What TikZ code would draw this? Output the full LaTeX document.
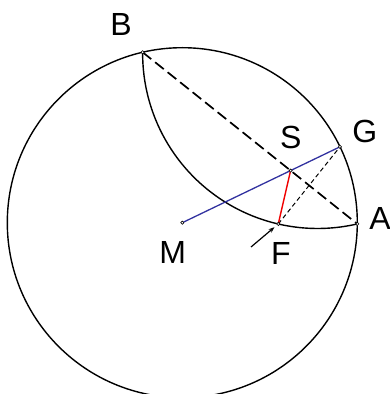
\documentclass[tikz,border=0pt]{standalone}
\usepackage{fontspec}
\setmainfont{Liberation Sans}
\usetikzlibrary{calc,arrows.meta}
\begin{document}
\begin{tikzpicture}[x=1pt,y=1pt,
  lbl/.style={inner sep=0pt, font=\fontsize{32}{36}\selectfont},
  ptmark/.style={circle, draw=black, fill=white, inner sep=0pt, minimum size=3.2pt, line width=0.6pt},
  circline/.style={line width=1.4pt, black},
  chordline/.style={line width=1.7pt, black, dash pattern=on 11pt off 5pt},
  radline/.style={line width=1.3pt, draw={rgb,255:red,50;green,50;blue,160}},
  redline/.style={line width=1.4pt, draw={rgb,255:red,240;green,0;blue,0}},
  perpline/.style={line width=1pt, black, dash pattern=on 4.5pt off 3pt},
  arrline/.style={line width=1.2pt, black, -{Stealth[length=6pt,width=4.5pt]}}]
\clip (0,0) rectangle (390,394);
\coordinate (M) at (182.3,171.3);
\coordinate (B) at ($(M)+(103.1:175)$);
\coordinate (A) at ($(M)+(-0.4:175)$);
\coordinate (G) at ($(M)+(25.7:175)$);
\coordinate (P) at ($(A)!(M)!(B)$);
\coordinate (M2) at ($(M)!2!(P)$);
\coordinate (Q) at ($(A)!(G)!(B)$);
\coordinate (F) at ($(G)!2!(Q)$);
\coordinate (S) at (intersection of M--G and A--B);
\coordinate (T) at (251,147);
% main circle
\draw[circline] (M) circle[radius=175pt];
% reflected arc B-F-A
\draw[circline] let \p1=($(B)-(M2)$), \p2=($(A)-(M2)$),
  \n1={atan2(\y1,\x1)}, \n2={atan2(\y2,\x2)+360} in
  (B) arc[start angle=\n1, end angle=\n2, radius=175pt];
% chord AB
\draw[chordline] (B) -- (A);
% radius MG
\draw[radline] (M) -- (G);
% FG dashed
\draw[perpline] (F) -- (G);
% SF red
\draw[redline] (S) -- (F);
% arrow
\draw[arrline, shorten >=5pt] (T) -- (F);
% point markers
\foreach \p in {M,B,A,G,F,S} \node[ptmark] at (\p) {};
% labels
\node[lbl] (lB) at (121,369.8) {B};
\node[lbl] (lS) at (290.8,256.2) {S};
\node[lbl] (lG) at (364.7,262.3) {G};
\node[lbl] (lA) at (380,175.7) {A};
\node[lbl] (lM) at (172.7,142) {M};
\node[lbl] (lF) at (280.8,140.7) {F};
\end{tikzpicture}
\end{document}
